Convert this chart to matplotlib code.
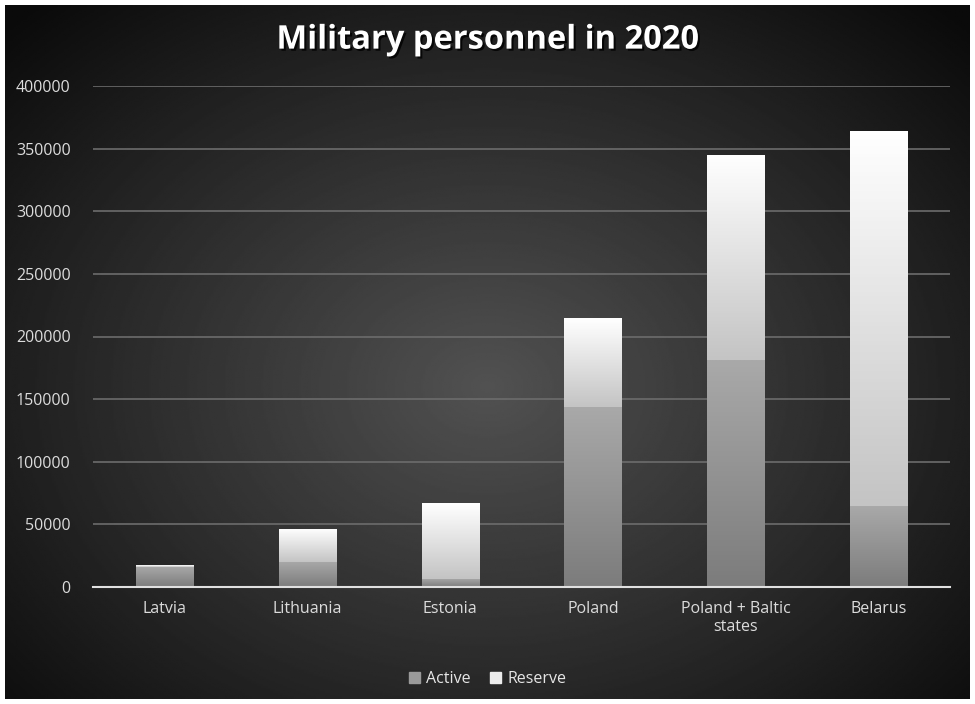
import numpy as np
import matplotlib
matplotlib.use('Agg')
import matplotlib.pyplot as plt
import matplotlib.patheffects as pe
from matplotlib.colors import LinearSegmentedColormap
from matplotlib.patches import Rectangle

# ── Data ──────────────────────────────────────────────────────────
countries = ['Latvia', 'Lithuania', 'Estonia', 'Poland', 'Poland + Baltic\nstates', 'Belarus']
active    = [16000, 20000, 6700, 144000, 181000, 65000]
reserve   = [1500, 26500, 60000, 71000, 164000, 299000]
yticks    = [0, 50000, 100000, 150000, 200000, 250000, 300000, 350000, 400000]

plt.rcParams['font.family'] = ['Open Sans', 'DejaVu Sans']

fig = plt.figure(figsize=(9.75, 7.04), dpi=100)
fig.patch.set_facecolor('white')

# ── radial dark background ────────────────────────────────────────
bg = fig.add_axes([5/975, 5/704, 965/975, 694/704])
bg.set_axis_off()
yy, xx = np.mgrid[0:1:400j, 0:1:560j]
r = np.sqrt(((xx-0.5)/0.75)**2 + ((yy-0.55)/0.8)**2)
shade = np.clip(0.32 - 0.30*r, 0.04, 0.32)
bg.imshow(shade, cmap='gray', vmin=0, vmax=1, aspect='auto', extent=[0, 1, 0, 1])

ax = fig.add_axes([93/975, (704-587)/704, 857/975, 501/704])
ax.patch.set_alpha(0)
x = np.arange(len(countries))
w = 0.4

cm_act = LinearSegmentedColormap.from_list('act', ['#7c7c7c', '#a9a9a9'])
cm_res = LinearSegmentedColormap.from_list('res', ['#c4c4c4', '#ffffff'])
grad = np.linspace(0, 1, 100).reshape(-1, 1)

b1 = ax.bar(x, active, width=w, color='#999999', zorder=3)
b2 = ax.bar(x, reserve, width=w, bottom=active, color='#e6e6e6', zorder=3)
for bars, cm in [(b1, cm_act), (b2, cm_res)]:
    for p in bars:
        x0, y0 = p.get_x(), p.get_y()
        im = ax.imshow(grad, cmap=cm, aspect='auto', origin='lower', zorder=4,
                       extent=[x0, x0+p.get_width(), y0, y0+p.get_height()])
        im.set_clip_path(p)

ax.set_xlim(-0.5, len(countries)-0.5)
ax.set_ylim(0, 400000)
ax.set_yticks(yticks)
ax.set_yticklabels([str(t) for t in yticks])
ax.set_xticks(x)
ax.set_xticklabels(countries)
ax.grid(axis='y', color='#6c6c6c', lw=1.2, zorder=1)
ax.set_axisbelow(True)
for sp in ['top', 'right', 'left']:
    ax.spines[sp].set_visible(False)
ax.spines['bottom'].set_color('#e0e0e0')
ax.spines['bottom'].set_linewidth(1.5)
ax.spines['bottom'].set_zorder(5)
ax.tick_params(length=0, labelsize=11.5, colors='#dcdcdc', pad=10)
ax.tick_params(axis='y', pad=16)

fig.text(0.5, 0.943, 'Military personnel in 2020', ha='center', va='center',
         fontsize=23.5, fontweight='bold', color='white',
         path_effects=[pe.withSimplePatchShadow(offset=(1.5, -1.5), shadow_rgbFace='black', alpha=0.8)])

handles = [Rectangle((0, 0), 1, 1, color='#9a9a9a'), Rectangle((0, 0), 1, 1, color='#ececec')]
leg = fig.legend(handles, ['Active', 'Reserve'], loc='center', bbox_to_anchor=(0.5, (704-679)/704),
                 ncol=2, frameon=False, fontsize=11.5, handlelength=0.7, handleheight=0.7,
                 handletextpad=0.4, columnspacing=1.2)
for t in leg.get_texts():
    t.set_color('#e6e6e6')

plt.savefig('out.png', dpi=100, facecolor='white')
